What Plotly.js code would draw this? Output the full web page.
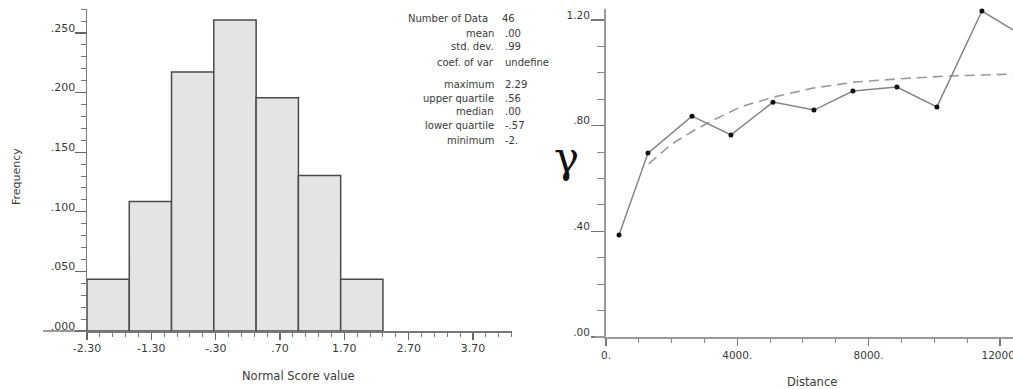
<!DOCTYPE html>
<html>
<head>
<meta charset="utf-8">
<script src="https://cdn.plot.ly/plotly-3.0.1.min.js"></script>
<style>html,body{margin:0;padding:0;background:#fff;}#chart{width:1013px;height:389px;}</style>
</head>
<body>
<div id="chart"></div>
<script>
// ---- Histogram data ----
const binEdges = [-2.30, -1.643, -0.986, -0.329, 0.329, 0.986, 1.643, 2.30];
const freq = [0.0435, 0.1087, 0.2174, 0.2609, 0.1957, 0.1304, 0.0435];
const histXTickVals = [-2.3, -1.3, -0.3, 0.7, 1.7, 2.7, 3.7];
const histXTickText = ['-2.30', '-1.30', '-.30', '.70', '1.70', '2.70', '3.70'];
const histYTickVals = [0, 0.05, 0.10, 0.15, 0.20, 0.25];
const histYTickText = ['.000', '.050', '.100', '.150', '.200', '.250'];

// ---- Summary statistics ----
const statLabels = ['Number of Data', 'mean', 'std. dev.', 'coef. of var', 'maximum', 'upper quartile', 'median', 'lower quartile', 'minimum'];
const statValues = ['46', '.00', '.99', 'undefine', '2.29', '.56', '.00', '-.57', '-2.'];

// ---- Variogram data ----
const lagDist = [396, 1279, 2620, 3807, 5087, 6336, 7524, 8864, 10082, 11453, 12700];
const gammaExp = [0.386, 0.696, 0.836, 0.765, 0.889, 0.859, 0.931, 0.946, 0.871, 1.234, 1.14];
const modelDist = [1300, 2000, 2600, 3100, 4100, 5100, 6300, 7600, 8900, 10400, 12400];
const modelGamma = [0.655, 0.73, 0.776, 0.810, 0.871, 0.908, 0.942, 0.965, 0.977, 0.988, 0.995];
const varXTickVals = [0, 4000, 8000, 12000];
const varXTickText = ['0.', '4000.', '8000.', '12000.'];
const varYTickVals = [0, 0.4, 0.8, 1.2];
const varYTickText = ['.00', '.40', '.80', '1.20'];

// ---- layout helpers ----
const W = 1013, H = 389;
const px = x => x / W;
const py = y => 1 - y / H;
const FONT = 'DejaVu Sans, Liberation Sans, Arial, sans-serif';
const TXT = '#3a3a3a';

const centers = freq.map((_, i) => (binEdges[i] + binEdges[i + 1]) / 2);
const widths = freq.map((_, i) => binEdges[i + 1] - binEdges[i]);

const traces = [
  {
    type: 'bar', x: centers, y: freq, width: widths,
    marker: {color: '#e4e4e4', line: {color: '#4a4a4a', width: 1.5}},
    xaxis: 'x', yaxis: 'y', hoverinfo: 'none'
  },
  {
    type: 'scatter', mode: 'lines', x: modelDist, y: modelGamma,
    line: {color: '#9a9a9a', width: 1.6, dash: '10px,6px'},
    xaxis: 'x2', yaxis: 'y2', hoverinfo: 'none'
  },
  {
    type: 'scatter', mode: 'lines+markers', x: lagDist, y: gammaExp,
    line: {color: '#858585', width: 1.5},
    marker: {color: '#111', size: 5},
    cliponaxis: false,
    xaxis: 'x2', yaxis: 'y2', hoverinfo: 'none'
  }
];

const tickFont = {family: FONT, size: 11, color: TXT};
const tickFont2 = {family: FONT, size: 10.5, color: TXT};

const annotations = [];
function addText(text, x, y, opts) {
  annotations.push(Object.assign({
    text: text, x: px(x), y: py(y), xref: 'paper', yref: 'paper',
    showarrow: false, xanchor: 'center', yanchor: 'middle',
    font: {family: FONT, size: 11, color: TXT}
  }, opts || {}));
}
addText('Frequency', 17, 177, {textangle: -90, font: {family: FONT, size: 11, color: TXT}});
addText('Normal Score value', 298, 376, {font: {family: FONT, size: 11.5, color: TXT}});
addText('Distance', 812, 382, {font: {family: FONT, size: 11.5, color: TXT}});
addText('γ', 566, 157, {font: {family: 'DejaVu Serif, serif', size: 42, color: '#111'}});

const statRowY = [18, 33, 47, 62, 84, 98, 112, 126, 140];
statLabels.forEach((lab, i) => {
  const lx = i === 0 ? 490 : 496;
  const vx = i === 0 ? 500 : 503;
  addText(lab, lx, statRowY[i], {xanchor: 'right', font: {family: FONT, size: 10, color: TXT}});
  addText(statValues[i], vx, statRowY[i], {xanchor: 'left', font: {family: FONT, size: 10, color: TXT}});
});

const layout = {
  width: W, height: H, autosize: false,
  margin: {l: 0, r: 0, t: 0, b: 0, pad: 0},
  paper_bgcolor: '#fff', plot_bgcolor: '#fff',
  showlegend: false, bargap: 0,
  xaxis: {
    domain: [px(87), px(511.6)], range: [-2.30, 4.30], anchor: 'y',
    tickmode: 'array', tickvals: histXTickVals, ticktext: histXTickText,
    ticks: 'outside', ticklen: 7, tickwidth: 1.3, tickcolor: '#666',
    minor: {ticks: 'outside', ticklen: 4, tickwidth: 1, tickcolor: '#777', tick0: -2.3, dtick: 0.2, showgrid: false},
    ticklabelstandoff: -1,
    showline: true, linecolor: '#777', linewidth: 1.5,
    showgrid: false, zeroline: false, tickfont: tickFont, fixedrange: true
  },
  yaxis: {
    domain: [py(331), py(9.2)], range: [0, 0.27], anchor: 'x',
    tickmode: 'array', tickvals: histYTickVals, ticktext: histYTickText,
    ticks: 'outside', ticklen: 11, tickwidth: 1.3, tickcolor: '#666',
    minor: {ticks: 'outside', ticklen: 5, tickwidth: 1, tickcolor: '#777', tick0: 0, dtick: 0.01, showgrid: false},
    ticklabelshift: -5, ticklabelstandoff: -3,
    showline: true, linecolor: '#777', linewidth: 1.5,
    showgrid: false, zeroline: false, tickfont: tickFont, fixedrange: true
  },
  xaxis2: {
    domain: [px(606), 1], range: [0, 12400], anchor: 'y2',
    tickmode: 'array', tickvals: varXTickVals, ticktext: varXTickText,
    ticks: 'outside', ticklen: 7, tickwidth: 1.3, tickcolor: '#777',
    minor: {ticks: 'outside', ticklen: 4, tickwidth: 1, tickcolor: '#888', tick0: 0, dtick: 1000, showgrid: false},
    ticklabeloverflow: 'allow',
    showline: true, linecolor: '#999', linewidth: 2,
    showgrid: false, zeroline: false, tickfont: tickFont2, fixedrange: true
  },
  yaxis2: {
    domain: [py(337), py(9.4)], range: [0, 1.24], anchor: 'x2',
    tickmode: 'array', tickvals: varYTickVals, ticktext: varYTickText,
    ticks: 'outside', ticklen: 13, tickwidth: 1.3, tickcolor: '#777',
    minor: {ticks: 'outside', ticklen: 7, tickwidth: 1, tickcolor: '#888', tick0: 0, dtick: 0.1, showgrid: false},
    ticklabelshift: -5, ticklabelstandoff: -1,
    showline: true, linecolor: '#999', linewidth: 2,
    showgrid: false, zeroline: false, tickfont: tickFont2, fixedrange: true
  },
  shapes: [
    {type: 'line', xref: 'paper', yref: 'paper', x0: px(43), x1: px(87), y0: py(331), y1: py(331), line: {color: '#777', width: 1.5}},
    {type: 'line', xref: 'paper', yref: 'paper', x0: px(595), x1: px(606), y0: py(337), y1: py(337), line: {color: '#999', width: 2}}
  ],
  annotations: annotations
};

Plotly.newPlot('chart', traces, layout, {displayModeBar: false, staticPlot: true});
</script>
</body>
</html>
